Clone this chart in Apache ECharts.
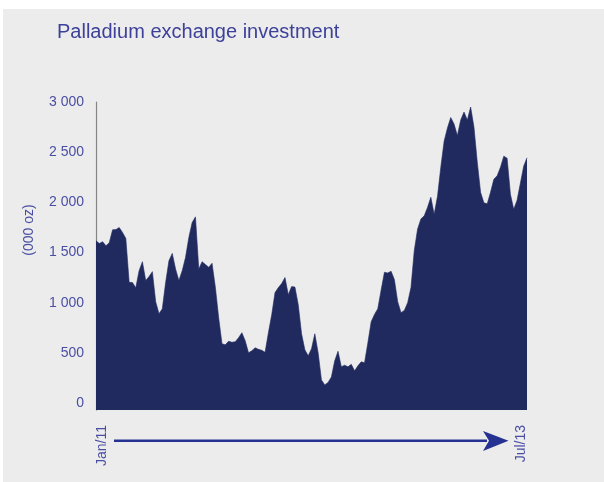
<!DOCTYPE html>
<html>
<head>
<meta charset="utf-8">
<script src="https://cdn.jsdelivr.net/npm/echarts@6/dist/echarts.min.js"></script>
<style>
	html, body { margin: 0; padding: 0; background: #ffffff; }
	.frame { position: relative; width: 604px; height: 482px; }
	#chart { position: absolute; left: 3px; top: 9px; width: 601px; height: 473px; background: #ececec; }
</style>
</head>
<body>
<div class="frame"><div id="chart"></div></div>
<script>
	// weekly holdings, 000 oz, Jan/11 .. Jul/13
	const holdings = [
		1617, 1590, 1607, 1567, 1597, 1726, 1728, 1749, 1700, 1640,
		1203, 1200, 1148, 1319, 1408, 1220, 1260, 1309, 1010, 890,
		939, 1200, 1418, 1491, 1336, 1220, 1319, 1450, 1650, 1798,
		1855, 1336, 1408, 1380, 1352, 1392, 1154, 850, 590, 580,
		615, 605, 610, 650, 700, 620, 500, 520, 550, 535,
		525, 505, 700, 880, 1100, 1150, 1190, 1250, 1080, 1160,
		1155, 980, 690, 530, 470, 540, 690, 500, 230, 180,
		205, 260, 420, 515, 360, 377, 360, 385, 320, 370,
		410, 400, 600, 810, 883, 940, 1125, 1303, 1296, 1313,
		1230, 1010, 900, 923, 1000, 1150, 1520, 1733, 1835, 1865,
		1950, 2050, 1880, 2060, 2350, 2610, 2740, 2845, 2780, 2665,
		2820, 2900, 2820, 2950, 2750, 2400, 2100, 1995, 1985, 2100,
		2230, 2265, 2350, 2460, 2440, 2080, 1930, 2020, 2190, 2360,
		2444
	];
	const weeks = holdings.map((v, i) => String(i));
	const dateLabels = ["Jan/11", "Jul/13"];
	const yTicks = [0, 500, 1000, 1500, 2000, 2500, 3000];

	const textBlue = "#4a4ea3";
	const chart = echarts.init(document.getElementById("chart"));
	const option = {
		backgroundColor: "#ececec",
		animation: false,
		title: {
			text: "Palladium exchange investment",
			left: 54,
			top: 13,
			padding: 0,
			textStyle: {
				color: "#3d4199",
				fontFamily: "Liberation Sans",
				fontWeight: "normal",
				fontSize: 20
			}
		},
		grid: [
			{ left: 93, right: 77, top: 93, bottom: 72 },
			{ left: 99, right: 83, top: 93, bottom: 72 }
		],
		xAxis: [
			{
				type: "category",
				gridIndex: 0,
				data: weeks,
				boundaryGap: false,
				axisLine: { show: false },
				axisTick: { show: false },
				axisLabel: { show: false },
				splitLine: { show: false }
			},
			{
				type: "category",
				gridIndex: 1,
				data: dateLabels,
				boundaryGap: false,
				axisLine: { show: false },
				axisTick: { show: false },
				splitLine: { show: false },
				axisLabel: {
					rotate: 90,
					margin: 15,
					interval: 0,
					color: textBlue,
					fontFamily: "Liberation Sans",
					fontSize: 14
				}
			}
		],
		yAxis: [
			{
				type: "value",
				gridIndex: 0,
				min: -70,
				max: 3000,
				splitLine: { show: false },
				axisTick: { show: false },
				axisLine: { show: true, lineStyle: { color: "#858585", width: 1.2 } },
				axisLabel: {
					customValues: yTicks,
					margin: 12,
					color: textBlue,
					fontFamily: "Liberation Sans",
					fontSize: 14,
					formatter: function (v) {
						return String(v).replace(/\B(?=(\d{3})+(?!\d))/g, " ");
					}
				}
			},
			{ type: "value", gridIndex: 1, show: false }
		],
		series: [
			{
				name: "Holdings",
				type: "line",
				xAxisIndex: 0,
				yAxisIndex: 0,
				data: holdings,
				symbol: "none",
				lineStyle: { width: 0.6, color: "#212a5e" },
				areaStyle: { color: "#212a5e", opacity: 1, origin: "start" }
			}
		],
		graphic: [
			{
				type: "text",
				x: 26.5,
				y: 221,
				rotation: Math.PI / 2,
				style: {
					text: "(000 oz)",
					fill: textBlue,
					fontFamily: "Liberation Sans",
					fontSize: 14,
					textAlign: "center",
					textVerticalAlign: "middle"
				}
			},
			{
				type: "line",
				shape: { x1: 111, y1: 431.7, x2: 484, y2: 431.7 },
				style: { stroke: "#263291", lineWidth: 2.6 }
			},
			{
				type: "polygon",
				shape: { points: [[480, 422], [505.5, 431.7], [480, 442], [486, 431.7]] },
				style: { fill: "#263291" }
			}
		]
	};
	chart.setOption(option);
</script>
</body>
</html>
